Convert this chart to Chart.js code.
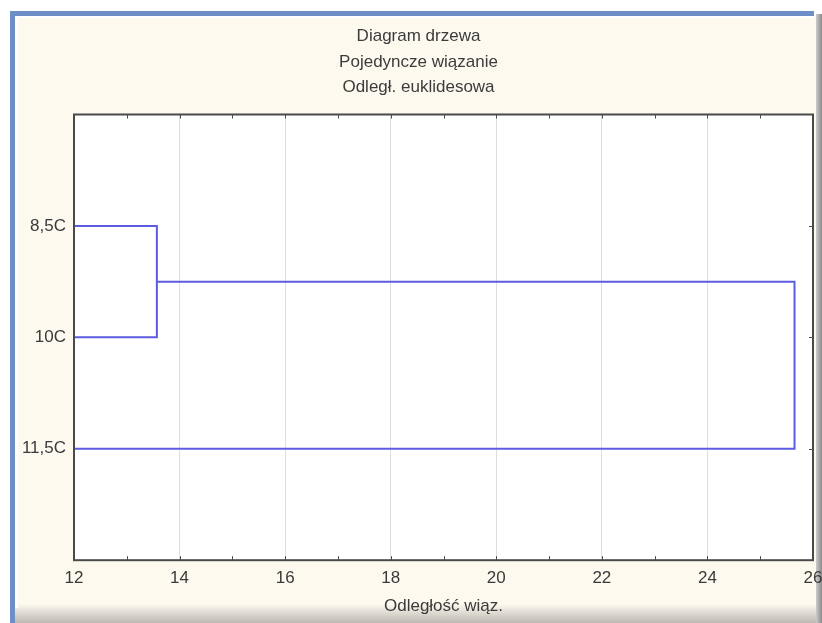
<!DOCTYPE html>
<html>
<head>
<meta charset="utf-8">
<script src="https://cdn.jsdelivr.net/npm/chart.js@4"></script>
<style>
  html, body { margin: 0; padding: 0; background: #ffffff; }
  #wrap { width: 822px; height: 623px; }
</style>
</head>
<body>
<div id="wrap"><canvas id="dendro" width="822" height="623"></canvas></div>
<script>
// chart data
var titleLines = ['Diagram drzewa', 'Pojedyncze wiązanie', 'Odległ. euklidesowa'];
var xTitle = 'Odległość wiąz.';
var leaves = ['8,5C', '10C', '11,5C'];
var leafPos = [1, 2, 3];
var joinDist = [13.57, 25.65];   // 8,5C+10C, then (8,5C,10C)+11,5C
var xMin = 12, xMax = 26, xStep = 2;

var lineColor = 'rgb(92, 92, 226)';
var cream = '#fdf9ef';
var fontFam = "'Liberation Sans', Arial, sans-serif";

// dendrogram branches
var midY = (leafPos[0] + leafPos[1]) / 2;
var branch1 = [
    {x: xMin, y: leafPos[0]},
    {x: joinDist[0], y: leafPos[0]},
    {x: joinDist[0], y: leafPos[1]},
    {x: xMin, y: leafPos[1]}
];
var branch2 = [
    {x: joinDist[0], y: midY},
    {x: joinDist[1], y: midY},
    {x: joinDist[1], y: leafPos[2]},
    {x: xMin, y: leafPos[2]}
];

// window look + white plot area
var windowBg = {
    id: 'windowBg',
    beforeDraw: function(chart) {
        var ctx = chart.ctx, a = chart.chartArea;
        ctx.save();
        ctx.fillStyle = '#ffffff';
        ctx.fillRect(0, 0, 822, 623);
        ctx.fillStyle = cream;
        ctx.fillRect(15, 16, 807, 607);
        // bottom shadow
        var g = ctx.createLinearGradient(0, 604, 0, 623);
        g.addColorStop(0, cream);
        g.addColorStop(1, '#bdb8b0');
        ctx.fillStyle = g;
        ctx.fillRect(15, 604, 807, 19);
        // right edge
        var g2 = ctx.createLinearGradient(815, 0, 822, 0);
        g2.addColorStop(0, '#d8d8d8');
        g2.addColorStop(1, '#8a8a8a');
        ctx.fillStyle = g2;
        ctx.fillRect(816, 14, 6, 609);
        // blue border
        ctx.fillStyle = '#6b8fc6';
        ctx.fillRect(10, 11, 5, 612);
        ctx.fillRect(10, 11, 804, 5);
        ctx.fillStyle = '#ffffff';
        ctx.fillRect(15, 16, 3, 592);
        ctx.fillRect(15, 16, 799, 2);
        // plot area
        ctx.fillStyle = '#ffffff';
        ctx.fillRect(a.left, a.top, a.right - a.left, a.bottom - a.top);
        ctx.restore();
    },
    afterDatasetsDraw: function(chart) {
        var ctx = chart.ctx, a = chart.chartArea;
        var xs = chart.scales.x, ys = chart.scales.y;
        ctx.save();
        ctx.strokeStyle = '#4a4a4a';
        ctx.lineWidth = 2;
        ctx.strokeRect(a.left, a.top, a.right - a.left, a.bottom - a.top);
        ctx.lineWidth = 1;
        ctx.beginPath();
        for (var v = xMin + 1; v < xMax; v++) {
            var px = Math.round(xs.getPixelForValue(v)) + 0.5;
            ctx.moveTo(px, a.top);
            ctx.lineTo(px, a.top + 4);
            ctx.moveTo(px, a.bottom);
            ctx.lineTo(px, a.bottom - 4);
        }
        leafPos.forEach(function(p) {
            var py = Math.round(ys.getPixelForValue(p)) + 0.5;
            ctx.moveTo(a.right, py);
            ctx.lineTo(a.right - 4, py);
        });
        ctx.stroke();
        ctx.restore();
    }
};

new Chart(document.getElementById('dendro'), {
    type: 'scatter',
    data: {
        datasets: [{
            data: branch1,
            showLine: true,
            borderColor: lineColor,
            borderWidth: 2,
            pointRadius: 0,
            tension: 0
        }, {
            data: branch2,
            showLine: true,
            borderColor: lineColor,
            borderWidth: 2,
            pointRadius: 0,
            tension: 0
        }]
    },
    options: {
        responsive: false,
        animation: false,
        events: [],
        layout: {
            padding: { left: 15, right: 0, top: 16, bottom: 4 }
        },
        plugins: {
            legend: { display: false },
            tooltip: { enabled: false },
            title: {
                display: true,
                text: titleLines,
                color: '#3c3c3c',
                font: { family: fontFam, size: 17, weight: 'normal', lineHeight: 1.5 },
                padding: { top: 8, bottom: 14 }
            }
        },
        scales: {
            x: {
                type: 'linear',
                min: xMin,
                max: xMax,
                afterFit: function(scale) {
                    scale.paddingLeft = 0;
                    scale.paddingRight = 9;
                },
                ticks: {
                    stepSize: xStep,
                    color: '#3a3a3a',
                    padding: 8,
                    font: { family: fontFam, size: 17 }
                },
                grid: { color: '#dedede', lineWidth: 1, drawTicks: false },
                border: { display: false },
                title: {
                    display: true,
                    text: xTitle,
                    color: '#3a3a3a',
                    font: { family: fontFam, size: 17 },
                    padding: { top: 0, bottom: 2 }
                }
            },
            y: {
                type: 'linear',
                reverse: true,
                min: 0,
                max: leaves.length + 1,
                afterFit: function(scale) { scale.width = 59; },
                ticks: {
                    stepSize: 1,
                    color: '#3a3a3a',
                    padding: 8,
                    font: { family: fontFam, size: 17 },
                    callback: function(v) {
                        var i = leafPos.indexOf(v);
                        return i >= 0 ? leaves[i] : '';
                    }
                },
                grid: { display: false, drawTicks: false },
                border: { display: false }
            }
        }
    },
    plugins: [windowBg]
});
</script>
</body>
</html>
